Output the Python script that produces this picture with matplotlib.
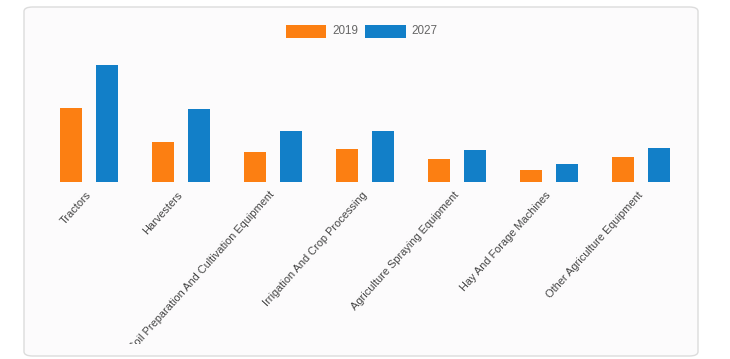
import matplotlib
matplotlib.use("Agg")
import matplotlib.pyplot as plt
import numpy as np
from matplotlib.patches import FancyBboxPatch, Rectangle
from matplotlib.transforms import Bbox, TransformedBbox

plt.rcParams['font.family'] = ['Liberation Sans', 'DejaVu Sans']

categories = ["Tractors", "Harvesters", "Soil Preparation And Cultivation Equipment",
              "Irrigation And Crop Processing", "Agriculture Spraying Equipment",
              "Hay And Forage Machines", "Other Agriculture Equipment"]
series_names = ["2019", "2027"]
values_2019 = [74, 40, 30, 33, 23, 12, 25]
values_2027 = [117, 73, 51, 51, 32, 18, 34]
colors = ["#fc7f12", "#127fc8"]

W, H = 730, 359
fig = plt.figure(figsize=(W / 100, H / 100), dpi=100)
fig.patch.set_facecolor("white")

def fx(px):
    return px / W

def fy(py):
    return 1 - py / H

# card background
card = FancyBboxPatch((fx(24), fy(356)), fx(698) - fx(24), fy(7) - fy(356),
                      boxstyle="round,pad=0,rounding_size=0.012",
                      transform=fig.transFigure, facecolor="#fcfbfc",
                      edgecolor="#dcdcdc", linewidth=1.0, zorder=-5)
fig.patches.append(card)

ax = fig.add_axes([fx(43), fy(182), fx(687) - fx(43), (182 - 52) / H])
ax.set_facecolor("none")
ax.set_zorder(2)
x = np.arange(len(categories))
bw = 0.24
off = 0.2
ax.bar(x - off, values_2019, width=bw, color=colors[0], zorder=2)
ax.bar(x + off, values_2027, width=bw, color=colors[1], zorder=2)
ax.set_xlim(-0.5, len(categories) - 0.5)
ax.set_ylim(0, 130)
ax.set_yticks([])
for s in ax.spines.values():
    s.set_visible(False)
ax.set_xticks(x)
ax.set_xticklabels(categories, rotation=48, ha="right", va="center",
                   rotation_mode="anchor", fontsize=7.9, color="#444444")
ax.tick_params(axis="x", length=0, pad=8)
clipbox = TransformedBbox(Bbox([[fx(24), fy(344)], [fx(698), fy(7)]]), fig.transFigure)
for lbl in ax.get_xticklabels():
    lbl.set_clip_box(clipbox)
    lbl.set_clip_on(True)

# legend
legend_items = [(286, 326, 332, series_names[0], colors[0]),
                (365, 406, 411, series_names[1], colors[1])]
for x0, x1, tx, name, c in legend_items:
    fig.patches.append(Rectangle((fx(x0), fy(38)), fx(x1) - fx(x0), fy(25) - fy(38),
                                 transform=fig.transFigure, facecolor=c,
                                 edgecolor="none", zorder=3))
    fig.text(fx(tx), fy(31.5), name, ha="left", va="center", fontsize=8.4,
             color="#666666")

fig.savefig("out.png", dpi=100)
